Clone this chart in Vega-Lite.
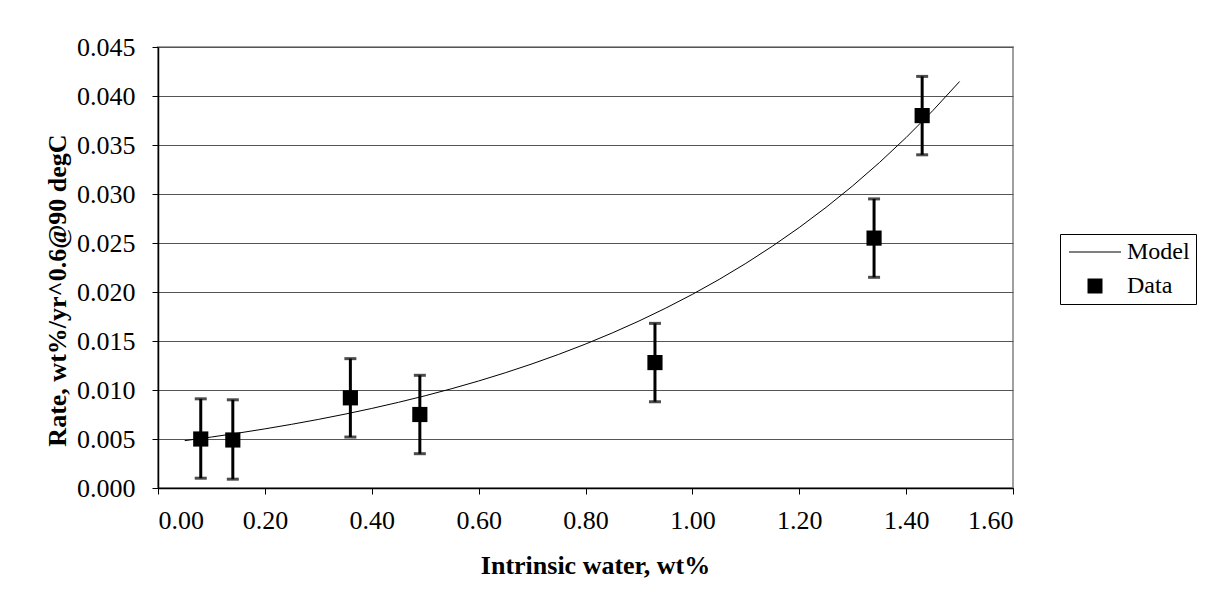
{
  "$schema": "https://vega.github.io/schema/vega-lite/v6.json",
  "autosize": {"type": "none"},
  "padding": {"left": 158, "top": 47, "right": 195, "bottom": 108},
  "width": 855,
  "height": 441,
  "background": "white",
  "config": {
    "view": {"stroke": "#a0a0a0", "strokeWidth": 2},
    "font": "Liberation Serif"
  },
  "datasets": {
    "pts": [
      {"x": 0.08, "y": 0.0050, "lo": 0.0010, "hi": 0.0091, "series": "Data"},
      {"x": 0.14, "y": 0.0049, "lo": 0.0009, "hi": 0.0090, "series": "Data"},
      {"x": 0.36, "y": 0.0092, "lo": 0.0052, "hi": 0.0132, "series": "Data"},
      {"x": 0.49, "y": 0.0075, "lo": 0.0035, "hi": 0.0115, "series": "Data"},
      {"x": 0.93, "y": 0.0128, "lo": 0.0088, "hi": 0.0168, "series": "Data"},
      {"x": 1.34, "y": 0.0255, "lo": 0.0215, "hi": 0.0295, "series": "Data"},
      {"x": 1.43, "y": 0.0380, "lo": 0.0340, "hi": 0.0420, "series": "Data"}
    ],
    "model": [
      {"x": 0.05, "y": 0.00483, "series": "Model"},
      {"x": 0.10, "y": 0.005202, "series": "Model"},
      {"x": 0.15, "y": 0.005602, "series": "Model"},
      {"x": 0.20, "y": 0.006034, "series": "Model"},
      {"x": 0.25, "y": 0.006498, "series": "Model"},
      {"x": 0.30, "y": 0.006998, "series": "Model"},
      {"x": 0.35, "y": 0.007537, "series": "Model"},
      {"x": 0.40, "y": 0.008117, "series": "Model"},
      {"x": 0.45, "y": 0.008742, "series": "Model"},
      {"x": 0.50, "y": 0.009414, "series": "Model"},
      {"x": 0.55, "y": 0.010139, "series": "Model"},
      {"x": 0.60, "y": 0.010919, "series": "Model"},
      {"x": 0.65, "y": 0.011760, "series": "Model"},
      {"x": 0.70, "y": 0.012665, "series": "Model"},
      {"x": 0.75, "y": 0.013639, "series": "Model"},
      {"x": 0.80, "y": 0.014689, "series": "Model"},
      {"x": 0.85, "y": 0.015820, "series": "Model"},
      {"x": 0.90, "y": 0.017037, "series": "Model"},
      {"x": 0.95, "y": 0.018349, "series": "Model"},
      {"x": 1.00, "y": 0.019760, "series": "Model"},
      {"x": 1.05, "y": 0.021281, "series": "Model"},
      {"x": 1.10, "y": 0.022919, "series": "Model"},
      {"x": 1.15, "y": 0.024683, "series": "Model"},
      {"x": 1.20, "y": 0.026583, "series": "Model"},
      {"x": 1.25, "y": 0.028629, "series": "Model"},
      {"x": 1.30, "y": 0.030832, "series": "Model"},
      {"x": 1.35, "y": 0.033205, "series": "Model"},
      {"x": 1.40, "y": 0.035761, "series": "Model"},
      {"x": 1.45, "y": 0.038513, "series": "Model"},
      {"x": 1.50, "y": 0.041477, "series": "Model"}
    ]
  },
  "encoding": {
    "x": {
      "field": "x", "type": "quantitative",
      "scale": {"domain": [0, 1.6], "nice": false, "zero": false},
      "axis": {
        "title": "Intrinsic water, wt%",
        "values": [0, 0.2, 0.4, 0.6, 0.8, 1.0, 1.2, 1.4, 1.6],
        "format": ".2f",
        "grid": false,
        "domainColor": "black", "domainWidth": 1.5,
        "tickColor": "black", "tickSize": 6, "tickWidth": 1,
        "labelFont": "Liberation Serif", "labelFontSize": 26, "labelColor": "black",
        "labelPadding": 13,
        "titleFont": "Liberation Serif", "titleFontSize": 26, "titleFontWeight": "bold",
        "titleColor": "black", "titleX": 437, "titleY": 64, "titleBaseline": "top"
      }
    },
    "y": {
      "field": "y", "type": "quantitative",
      "scale": {"domain": [0, 0.045], "nice": false},
      "axis": {
        "title": "Rate, wt%/yr^0.6@90 degC",
        "values": [0, 0.005, 0.01, 0.015, 0.02, 0.025, 0.03, 0.035, 0.04, 0.045],
        "format": ".3f",
        "grid": true, "gridColor": "#555555", "gridWidth": 1,
        "domainColor": "black", "domainWidth": 1.5,
        "tickColor": "black", "tickSize": 6, "tickWidth": 1,
        "labelFont": "Liberation Serif", "labelFontSize": 26, "labelColor": "black",
        "labelPadding": 17,
        "titleFont": "Liberation Serif", "titleFontSize": 26, "titleFontWeight": "bold",
        "titleColor": "black", "titleX": -88, "titleY": 243, "titleAngle": -90, "titleBaseline": "bottom"
      }
    }
  },
  "layer": [
    {
      "data": {"name": "model"},
      "mark": {"type": "line", "strokeWidth": 1},
      "encoding": {
        "color": {
          "field": "series", "type": "nominal",
          "scale": {"domain": ["Model", "Data"], "range": ["black", "black"]},
          "legend": {
            "title": null,
            "orient": "none",
            "legendX": 902,
            "legendY": 187,
            "strokeColor": "black",
            "fillColor": "white",
            "padding": 6,
            "labelFont": "Liberation Serif",
            "labelFontSize": 24,
            "labelColor": "black",
            "symbolSize": 225,
            "symbolStrokeWidth": 1,
            "rowPadding": 10,
            "labelOffset": 37,
            "encode": {
              "symbols": {
                "update": {
                  "shape": {"signal": "datum.value === 'Model' ? 'M-3.47,0H3.47' : 'square'"},
                  "fill": {"signal": "datum.value === 'Model' ? 'transparent' : 'black'"},
                  "stroke": {"value": "black"},
                  "strokeWidth": {"signal": "datum.value === 'Model' ? 1 : 0"},
                  "x": {"value": 29}
                }
              }
            }
          }
        }
      }
    },
    {
      "data": {"name": "pts"},
      "mark": {"type": "rule", "strokeWidth": 3, "color": "black"},
      "encoding": {
        "y": {"field": "lo", "type": "quantitative"},
        "y2": {"field": "hi"}
      }
    },
    {
      "data": {"name": "pts"},
      "mark": {"type": "tick", "orient": "horizontal", "size": 12, "thickness": 3, "color": "black"},
      "encoding": {
        "y": {"field": "lo", "type": "quantitative"}
      }
    },
    {
      "data": {"name": "pts"},
      "mark": {"type": "tick", "orient": "horizontal", "size": 12, "thickness": 3, "color": "black"},
      "encoding": {
        "y": {"field": "hi", "type": "quantitative"}
      }
    },
    {
      "data": {"name": "pts"},
      "mark": {"type": "point", "shape": "square", "filled": true, "size": 230, "opacity": 1},
      "encoding": {
        "color": {"field": "series", "type": "nominal"}
      }
    }
  ]
}
